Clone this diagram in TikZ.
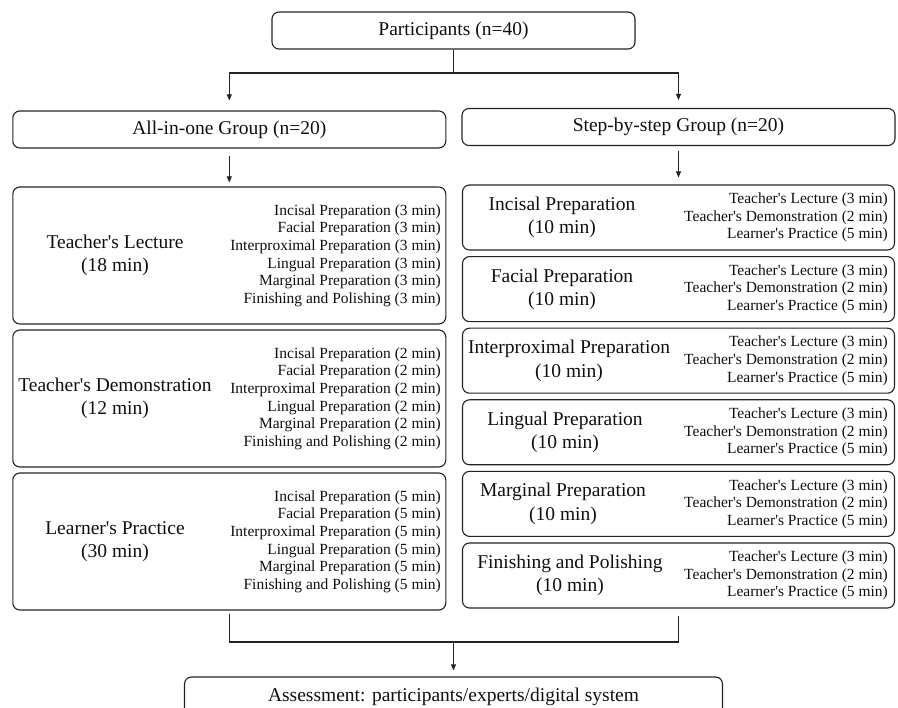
\documentclass[tikz,border=0pt]{standalone}
\usepackage{fontspec}
\setmainfont{Liberation Serif}[Ligatures=TeXOff]
\usepackage{tikz}
\usetikzlibrary{arrows.meta,positioning,calc}
\definecolor{rahmen}{RGB}{35,35,35}
\definecolor{schrift}{RGB}{15,15,15}
\newcommand{\mainsz}{\fontsize{19.5}{23.3}\selectfont}
\newcommand{\smallsz}{\fontsize{15.5}{17.6}\selectfont}
\tikzset{
  boxbase/.style={draw=rahmen, line width=1.1pt, rounded corners=7pt, inner sep=0pt},
  topbox/.style={boxbase, minimum width=363pt, minimum height=37pt, font=\mainsz, text=schrift},
  grpbox/.style={boxbase, minimum width=433pt, minimum height=37pt, font=\mainsz, text=schrift},
  phasebox/.style={boxbase, minimum width=433pt, minimum height=137pt},
  unitbox/.style={boxbase, minimum width=432pt, minimum height=65pt},
  biglabel/.style={align=center, font=\mainsz, text=schrift, inner sep=0pt},
  smalllabel/.style={align=right, font=\smallsz, text=schrift, anchor=east, inner sep=0pt},
  link/.style={draw=rahmen, line width=1.1pt},
  arr/.style={link, -{Triangle[length=6pt,width=5pt]}}
}
\newcommand{\preplist}[1]{Incisal Preparation (#1 min)\\Facial Preparation (#1 min)\\Interproximal Preparation (#1 min)\\Lingual Preparation (#1 min)\\Marginal Preparation (#1 min)\\Finishing and Polishing (#1 min)}
\newcommand{\steplist}{Teacher's Lecture (3 min)\\Teacher's Demonstration (2 min)\\Learner's Practice (5 min)}

\begin{document}
\begin{tikzpicture}[x=1pt, y=-1pt]
\useasboundingbox (0,0) rectangle (898,708);
\clip (0,0) rectangle (898,708);

\node[topbox] (part) at (453.5,30.5) {Participants (n=40)};
\node[grpbox] (grpA) at (229.3,129.5) {All-in-one Group (n=20)};
\node[grpbox] (grpB) at (678.5,127) {Step-by-step Group (n=20)};

% all-in-one group: one phase per box
\foreach \nm/\yc/\lbl/\tot/\each in {lect/255.5/Teacher's Lecture/18/3, demo/398.5/Teacher's Demonstration/12/2, prac/541.5/Learner's Practice/30/5}{
  \node[phasebox] (\nm) at (229.3,\yc) {};
  \node[biglabel] (\nm-lbl) at (115,\yc) {\lbl\\(\tot{} min)};
  \node[smalllabel] (\nm-sub) at (441,\yc) {\preplist{\each}};
}

% step-by-step group: one preparation per box
\foreach \nm/\yc/\xc/\lbl in {inc/217.5/562/Incisal Preparation, fac/289.1/562/Facial Preparation, ipx/360.7/569/Interproximal Preparation, lin/432.3/565/Lingual Preparation, mar/503.9/563/Marginal Preparation, fin/575.5/570/Finishing and Polishing}{
  \node[unitbox] (\nm) at (678.5,\yc) {};
  \node[biglabel] (\nm-lbl) at (\xc,\yc) {\lbl\\(10 min)};
  \node[smalllabel] (\nm-sub) at (888,\yc) {\steplist};
}

\node[topbox, minimum width=538pt, minimum height=40pt] (assess) at (453.5,697) {Assessment: participants/experts/digital system};

\coordinate (split) at (453.5,73);
\draw[link] (part) -- (split);
\draw[arr, shorten >=10pt] (split) -| (grpA);
\draw[arr, shorten >=8pt] (split) -| (grpB);
\draw[arr, shorten <=7pt, shorten >=4pt] (grpA) -- (lect);
\draw[arr, shorten <=5pt, shorten >=7pt] (grpB) -- (inc);

\coordinate (merge) at (453.5,642);
\draw[link, shorten <=3pt] (prac) |- (merge);
\draw[link, shorten <=7pt] (fin) |- (merge);
\draw[arr, shorten >=6pt] (merge) -- (assess);

\end{tikzpicture}
\end{document}
